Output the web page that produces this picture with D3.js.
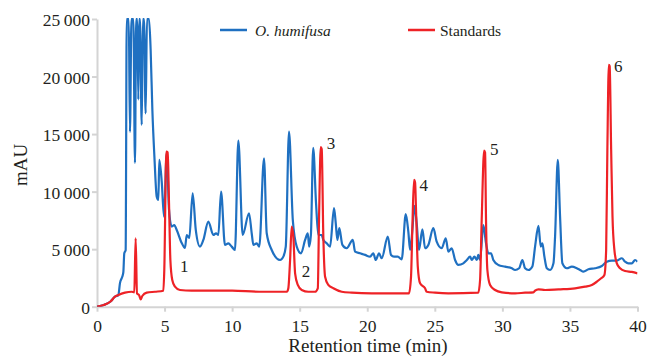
<!DOCTYPE html>
<html>
<head>
<meta charset="utf-8">
<script src="https://cdn.jsdelivr.net/npm/d3@7"></script>
<style>
  html, body { margin: 0; padding: 0; background: #fff; }
</style>
</head>
<body>
<svg id="chart" width="649" height="357"></svg>
<script>
// retention time (min), absorbance (mAU)
const humifusa = [
  [0, 0], [0.5, 150], [1.0, 450], [1.33, 870], [1.58, 1000], [1.7, 2050], [1.87, 2600], [1.95, 3000],
  [2.02, 4650], [2.12, 4900], [2.2, 25000], [2.35, 25000], [2.44, 15200], [2.55, 25000], [2.69, 25000],
  [2.81, 12500], [2.9, 25000], [2.98, 25000], [3.06, 18000], [3.12, 25000], [3.18, 25000], [3.31, 15800],
  [3.4, 25000], [3.48, 25000], [3.6, 16800], [3.7, 25000], [3.85, 25000], [3.97, 22300], [4.1, 17000],
  [4.25, 13000], [4.42, 9560], [4.54, 9280], [4.61, 12750], [4.79, 10870], [4.96, 7830], [5.16, 13340],
  [5.33, 8400], [5.53, 6960], [5.72, 7100], [5.9, 6670], [6.27, 5540], [6.51, 5100], [6.64, 6230],
  [6.83, 5970], [7.08, 9860], [7.31, 6670], [7.62, 5220], [7.87, 5800], [8.24, 7390], [8.61, 6230],
  [8.81, 6380], [8.98, 6230], [9.18, 10000], [9.47, 5370], [9.72, 5510], [9.97, 5220], [10.21, 4930],
  [10.46, 14440], [10.78, 6230], [11.25, 8120], [11.45, 6380], [11.57, 5370], [11.82, 5510], [12.01, 5220],
  [12.36, 12900], [12.56, 6380], [12.93, 4930], [13.55, 4060], [13.79, 4350], [13.97, 5220], [14.21, 15220],
  [14.49, 7540], [14.78, 5220], [15.1, 4640], [15.4, 5800], [15.6, 6380], [15.7, 5220], [15.83, 6230],
  [16.0, 13800], [16.21, 8990], [16.38, 6230], [16.63, 6230], [16.75, 5800], [17.0, 5510], [17.25, 5220],
  [17.54, 8560], [17.67, 7250], [17.79, 5800], [17.93, 6820], [18.16, 5370], [18.48, 5080], [18.93, 5800],
  [19.1, 4780], [19.47, 4640], [19.84, 4500], [20.21, 4350], [20.45, 4640], [20.63, 4060], [20.87, 4640],
  [21.07, 4210], [21.52, 6090], [21.76, 4500], [21.98, 4350], [22.26, 4350], [22.55, 4120], [22.85, 8040],
  [23.04, 6520], [23.17, 4930], [23.34, 6670], [23.49, 8760], [23.66, 7250], [23.83, 4930], [24.08, 6730],
  [24.28, 5080], [24.52, 5370], [24.89, 6820], [25.14, 5650], [25.51, 5080], [25.81, 5950], [26.0, 4780],
  [26.25, 5080], [26.5, 4060], [26.74, 3630], [27.11, 3770], [27.37, 4060], [27.61, 4350], [27.74, 4060],
  [27.93, 4350], [28.11, 4060], [28.22, 4500], [28.35, 4060], [28.59, 7100], [28.79, 5510], [28.96, 4640],
  [29.16, 4640], [29.33, 4060], [29.7, 3630], [30.2, 3480], [30.7, 3340], [30.94, 3190], [31.24, 3340],
  [31.48, 4060], [31.68, 3340], [31.93, 3190], [32.22, 3500], [32.42, 5220], [32.67, 7020], [32.84, 5220],
  [32.96, 5510], [33.11, 4350], [33.29, 3340], [33.53, 3190], [33.78, 3770], [33.9, 6090], [34.1, 12760],
  [34.27, 7830], [34.44, 3770], [34.77, 3340], [35.14, 3480], [35.51, 3340], [35.75, 3190], [36.0, 3040],
  [36.37, 3250], [36.86, 3340], [37.36, 3540], [37.73, 3910], [38.1, 4000], [38.47, 4000], [38.84, 4210],
  [39.08, 3910], [39.33, 3770], [39.58, 3770], [39.82, 4060], [40.0, 3910]
];

const standards = [
  [0, 0], [0.5, 150], [1.0, 450], [1.33, 870], [1.58, 1020], [2.07, 1220], [2.56, 1300], [2.76, 1250],
  [2.86, 5950], [2.96, 1160], [3.11, 1020], [3.23, 640], [3.35, 930], [3.68, 1220], [4.29, 1300],
  [4.91, 1390], [4.98, 3190], [5.13, 13480], [5.23, 13400], [5.33, 8990], [5.43, 4060], [5.57, 2320],
  [5.77, 1740], [6.14, 1450], [7.0, 1390], [10.0, 1390], [12.0, 1300], [14.05, 1300], [14.16, 1600],
  [14.29, 4060], [14.41, 6960], [14.53, 6090], [14.66, 2900], [14.86, 1890], [15.15, 1450], [15.64, 1300],
  [16.14, 1300], [16.34, 1600], [16.43, 7540], [16.56, 13860], [16.63, 13700], [16.75, 6090], [16.88, 2610],
  [17.12, 1890], [17.49, 1600], [18.11, 1300], [18.85, 1220], [20.33, 1160], [23.09, 1160], [23.24, 2610],
  [23.34, 6960], [23.46, 11020], [23.54, 10800], [23.61, 8400], [23.74, 3480], [23.91, 2030], [24.28, 1600],
  [24.4, 1300], [25.02, 1220], [26.0, 1160], [28.22, 1220], [28.35, 2320], [28.47, 7540], [28.65, 13570],
  [28.72, 13400], [28.79, 7540], [28.89, 3190], [29.09, 1890], [29.46, 1450], [29.96, 1250], [30.94, 1160],
  [31.68, 1220], [32.3, 1250], [32.42, 1390], [32.67, 1510], [33.16, 1450], [34.15, 1510], [35.38, 1600],
  [36.12, 1740], [36.62, 1890], [36.99, 2170], [37.31, 2470], [37.55, 2760], [37.68, 4930], [37.77, 13630],
  [37.88, 21020], [37.94, 20900], [38.05, 13630], [38.15, 7830], [38.29, 4930], [38.47, 3770], [38.71, 3340],
  [39.08, 3100], [39.58, 3020], [40.0, 2900]
];

// peak numbers, anchored at (time, mAU) of the label's lower-left corner
const peakLabels = [
  ['1', 6.14, 3020], ['2', 15.15, 2580], ['3', 17.0, 13710],
  ['4', 23.86, 10060], ['5', 29.09, 13190], ['6', 38.27, 20410]
];

const xTicks = [0, 5, 10, 15, 20, 25, 30, 35, 40];
const yTicks = [0, 5000, 10000, 15000, 20000, 25000];

const seriesNames = ['O. humifusa', 'Standards'];
const colors = ['#1f70c1', '#ee2226'];

const serif = '"Liberation Serif", "Times New Roman", Times, serif';
const ink = '#231f20';

const margin = { top: 19, left: 97, right: 11.5, bottom: 50.3 };
const width = 649, height = 357;

const svg = d3.select('#chart');

const x = d3.scaleLinear().domain([0, 40]).range([margin.left, width - margin.right]);
const y = d3.scaleLinear().domain([0, 25000]).range([height - margin.bottom, margin.top]);

const fmt = v => d3.format(',')(v).replace(',', '\u2009');

// clip the traces to the plot area
svg.append('clipPath').attr('id', 'plot')
  .append('rect')
  .attr('x', x(0)).attr('y', y(25000) - 1)
  .attr('width', x(40) - x(0)).attr('height', y(0) - y(25000) + 1);

// axes
const xAxis = svg.append('g')
  .attr('transform', `translate(0,${y(0)})`)
  .call(d3.axisBottom(x).tickValues(xTicks).tickSize(5).tickSizeOuter(0));
xAxis.selectAll('text').attr('y', 25).attr('dy', 0);

const yAxis = svg.append('g')
  .attr('transform', `translate(${x(0)},0)`)
  .call(d3.axisLeft(y).tickValues(yTicks).tickFormat(fmt).tickSize(5).tickPadding(2).tickSizeOuter(0));
yAxis.selectAll('text').attr('dy', '0.37em');

[xAxis, yAxis].forEach(g => {
  g.attr('font-family', serif).attr('font-size', 17.5);
  g.selectAll('text').attr('fill', ink);
});

svg.selectAll('.domain, .tick line').attr('stroke', '#d4d4d4').attr('stroke-width', 2);

// traces
const line = d3.line().x(d => x(d[0])).y(d => y(d[1])).curve(d3.curveMonotoneX);

const traces = svg.append('g').attr('clip-path', 'url(#plot)');
[humifusa, standards].forEach((data, i) => {
  traces.append('path')
    .datum(data)
    .attr('fill', 'none')
    .attr('stroke', colors[i])
    .attr('stroke-width', 2.2)
    .attr('stroke-linejoin', 'round')
    .attr('d', line);
});

// peak numbers
svg.selectAll('.peak')
  .data(peakLabels)
  .enter()
  .append('text')
  .attr('class', 'peak')
  .attr('x', d => x(d[1]))
  .attr('y', d => y(d[2]))
  .attr('font-family', serif)
  .attr('font-size', 17)
  .attr('fill', ink)
  .text(d => d[0]);

// legend
const legend = svg.append('g').attr('font-family', serif).attr('font-size', 15.5);
[[220, 255], [408, 440]].forEach((pos, i) => {
  legend.append('line')
    .attr('x1', pos[0]).attr('x2', pos[0] + 27)
    .attr('y1', 30).attr('y2', 30)
    .attr('stroke', colors[i]).attr('stroke-width', 2.5);
  legend.append('text')
    .attr('x', pos[1]).attr('y', 36)
    .attr('fill', ink)
    .attr('font-style', i === 0 ? 'italic' : 'normal')
    .text(seriesNames[i]);
});

// axis titles
svg.append('text')
  .attr('x', 368).attr('y', 352)
  .attr('text-anchor', 'middle')
  .attr('font-family', serif)
  .attr('font-size', 19)
  .attr('fill', ink)
  .text('Retention time (min)');

svg.append('text')
  .attr('transform', 'translate(27,165) rotate(-90)')
  .attr('text-anchor', 'middle')
  .attr('font-family', serif)
  .attr('font-size', 19)
  .attr('fill', ink)
  .text('mAU');
</script>
</body>
</html>
